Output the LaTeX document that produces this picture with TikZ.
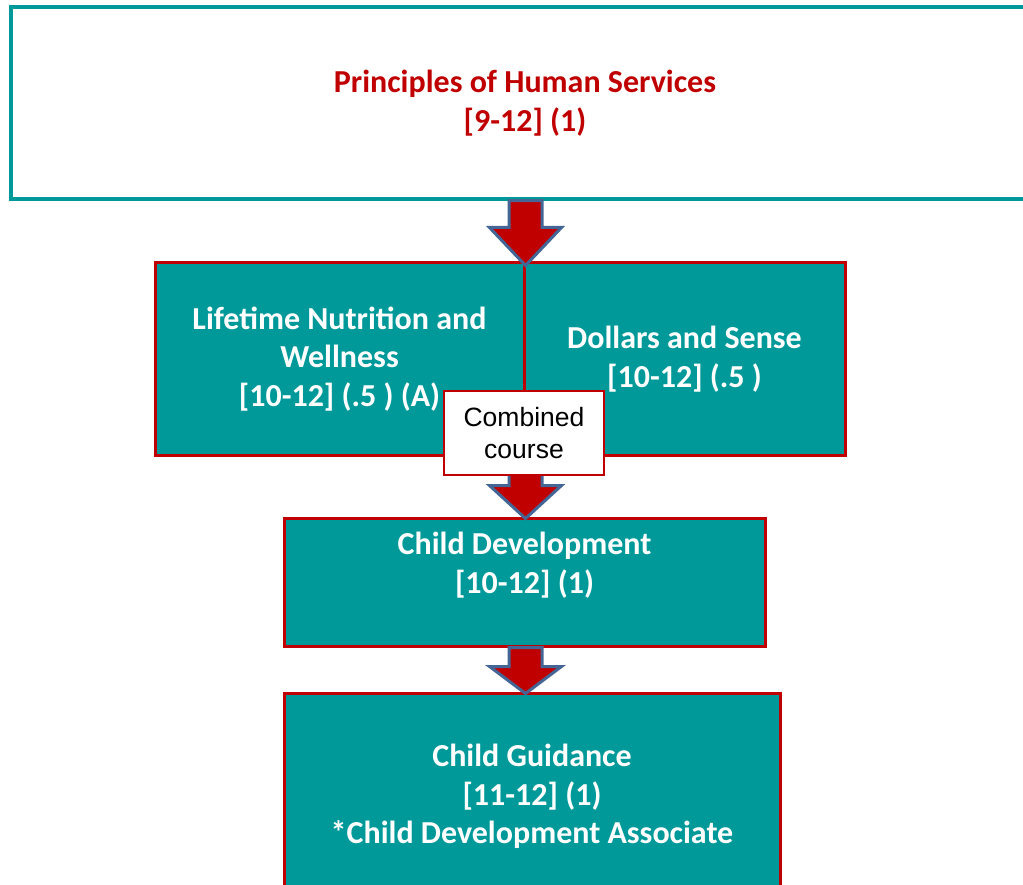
\documentclass[tikz,border=0pt]{standalone}
\usepackage{fontspec}
\setmainfont{Carlito}
\newfontfamily\arialfont{Liberation Sans}
\usetikzlibrary{calc}
\definecolor{boxteal}{RGB}{0,153,153}
\definecolor{boxred}{RGB}{192,0,0}
\definecolor{arrowblue}{RGB}{68,102,150}
% block arrow: #1 head height, #2 start, #3 tip
\newcommand\flowarrow[3]{%
  \draw[flowstyle] let \p1=(#2), \p2=(#3) in
    (\x2-16.5pt,\y1) -- (\x2+16.5pt,\y1) -- (\x2+16.5pt,\y2+#1) -- (\x2+36pt,\y2+#1)
    -- (\x2,\y2) -- (\x2-36pt,\y2+#1) -- (\x2-16.5pt,\y2+#1) -- cycle;}
\begin{document}
\begin{tikzpicture}[x=1pt, y=-1pt,
  coursebox/.style = {draw=boxred, line width=3pt, fill=boxteal, text=white, align=center,
    inner sep=0pt, font=\bfseries\fontsize{32}{38.5}\selectfont},
  flowstyle/.style = {draw=arrowblue, fill=boxred, line width=3pt, line join=miter}]
  \useasboundingbox (0,0) rectangle (1023,885);
  \clip (0,0) rectangle (1023,885);
  \node[coursebox, draw=boxteal, line width=3.5pt, fill=white, text=boxred,
    minimum width=1028pt, minimum height=192pt] (top) at (525,103)
    {Principles of Human Services\\{[9-12] (1)}};
  \node[coursebox, minimum width=369pt, minimum height=192pt] (lifetime) at (339.5,359)
    {Lifetime Nutrition and\\Wellness\\{[10-12] (.5 ) (A)}};
  \node[coursebox, minimum width=321pt, minimum height=192pt] (dollars) at (684.5,359)
    {Dollars and Sense\\{[10-12] (.5 )}};
  \node[coursebox, minimum width=481pt, minimum height=128pt,
    label={[coursebox, draw=none, fill=none, yshift=17pt]center:{Child Development\\{[10-12] (1)}}}]
    (childdev) at (524.5,582) {};
  \node[coursebox, minimum width=496pt, minimum height=207pt] (guidance) at (532,796.5)
    {Child Guidance\\{[11-12] (1)}\\*Child Development Associate};
  \flowarrow{38pt}{top.south -| lifetime.north east}{$(lifetime.north east)+(0,4)$}
  \flowarrow{33pt}{lifetime.south east}{$(childdev.north -| lifetime.south east)+(0,2)$}
  \flowarrow{27pt}{childdev.south -| lifetime.south east}{$(guidance.north -| lifetime.south east)+(0,2)$}
  \node[draw=boxred, line width=2pt, fill=white, align=center, inner sep=0pt,
    font=\arialfont\fontsize{26.5}{32}\selectfont,
    minimum width=160pt, minimum height=84pt] (combined) at (524,433) {Combined\\course};
\end{tikzpicture}
\end{document}
